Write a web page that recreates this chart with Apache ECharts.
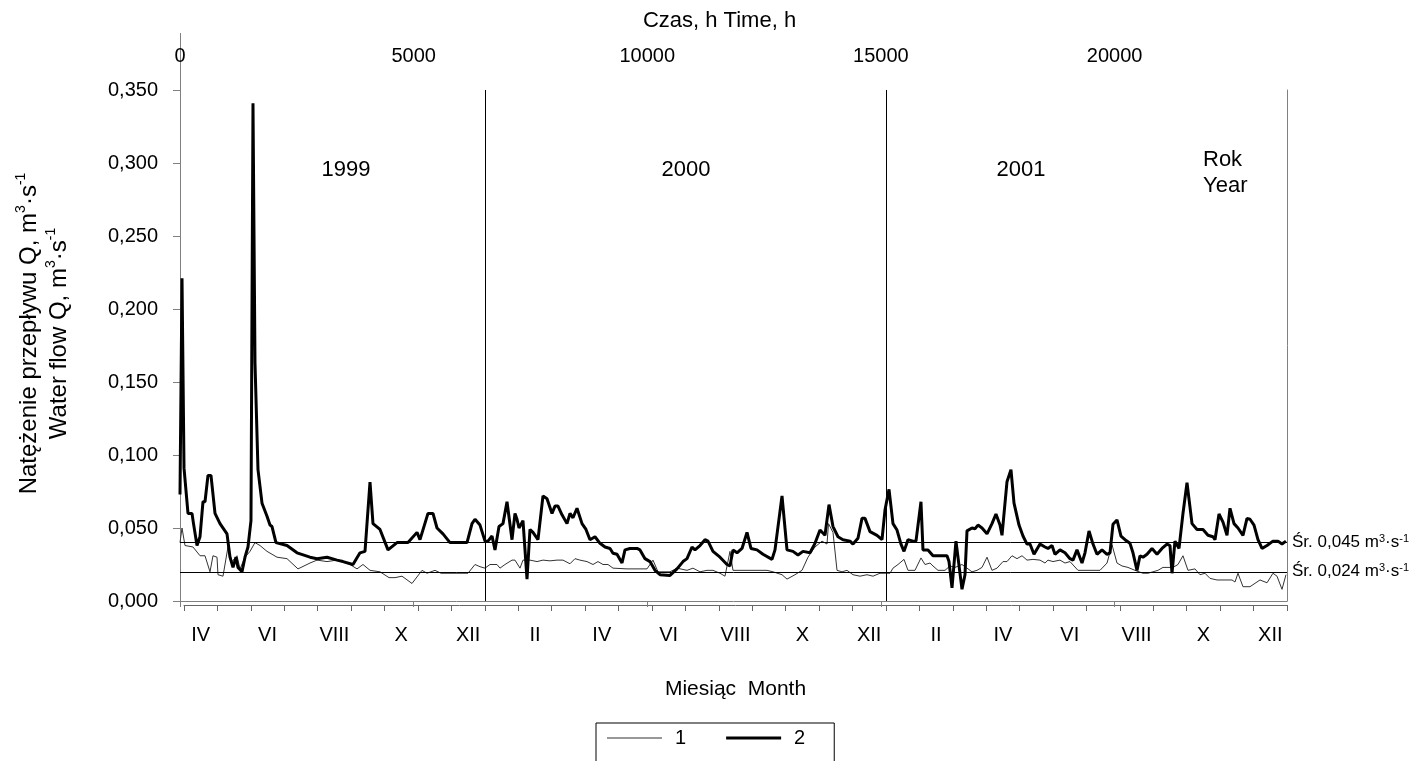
<!DOCTYPE html>
<html>
<head>
<meta charset="utf-8">
<title>Natężenie przepływu</title>
<script src="https://cdn.jsdelivr.net/npm/echarts@6/dist/echarts.min.js"></script>
<style>
  html, body { margin: 0; padding: 0; background: #fff; }
  #main { width: 1424px; height: 761px; }
</style>
</head>
<body>
<div id="main"></div>
<script>
// month categories on the lower axis (IV 1999 .. XII 2001)
var months = ['IV', 'V', 'VI', 'VII', 'VIII', 'IX', 'X', 'XI', 'XII',
  'I', 'II', 'III', 'IV', 'V', 'VI', 'VII', 'VIII', 'IX', 'X', 'XI', 'XII',
  'I', 'II', 'III', 'IV', 'V', 'VI', 'VII', 'VIII', 'IX', 'X', 'XI', 'XII'];

// series 1 (thin line): time in hours, flow in m3/s
var hours1 = [0, 43, 107, 278, 428, 535, 642, 706, 792, 813,
  920, 1027, 1113, 1220, 1284, 1391, 1498, 1605, 1712, 1862,
  2076, 2290, 2525, 2782, 2932, 3146, 3360, 3638, 3788, 3916,
  4066, 4280, 4473, 4601, 4751, 4965, 5179, 5286, 5457, 5585,
  5906, 6163, 6313, 6420, 6527, 6634, 6784, 6848, 6955, 7105,
  7169, 7276, 7340, 7490, 7640, 7768, 7918, 8068, 8196, 8346,
  8453, 8560, 8710, 8838, 8945, 9052, 9159, 9266, 9566, 9994,
  10122, 10229, 10486, 10636, 10850, 10978, 11128, 11278, 11406, 11556,
  11663, 11770, 11834, 12134, 12412, 12562, 12690, 12883, 12990, 13161,
  13311, 13439, 13589, 13739, 13846, 13878, 13974, 14060, 14167, 14274,
  14402, 14552, 14702, 14830, 14980, 15194, 15258, 15365, 15494, 15579,
  15729, 15857, 15943, 16050, 16114, 16221, 16371, 16478, 16585, 16735,
  16820, 16949, 17056, 17163, 17270, 17377, 17484, 17612, 17698, 17805,
  17912, 18019, 18126, 18254, 18404, 18511, 18575, 18682, 18832, 18939,
  19046, 19217, 19410, 19688, 19838, 19945, 20052, 20159, 20287, 20437,
  20608, 20715, 20822, 20929, 21036, 21143, 21250, 21357, 21464, 21571,
  21721, 21828, 21935, 22042, 22192, 22513, 22577, 22641, 22748, 22898,
  23112, 23262, 23390, 23476, 23583, 23668];
var flow1 = [0.040, 0.050, 0.038, 0.037, 0.031, 0.031, 0.020, 0.031, 0.030, 0.018,
  0.017, 0.037, 0.027, 0.031, 0.022, 0.030, 0.034, 0.040, 0.038, 0.034,
  0.030, 0.029, 0.022, 0.026, 0.028, 0.027, 0.028, 0.025, 0.022, 0.025,
  0.021, 0.020, 0.016, 0.016, 0.017, 0.012, 0.021, 0.019, 0.021, 0.019,
  0.019, 0.019, 0.025, 0.0235, 0.0225, 0.025, 0.025, 0.0225, 0.025, 0.028,
  0.028, 0.0225, 0.028, 0.028, 0.027, 0.028, 0.0275, 0.028, 0.028, 0.0255,
  0.029, 0.028, 0.027, 0.025, 0.027, 0.025, 0.025, 0.0225, 0.022, 0.022,
  0.028, 0.020, 0.020, 0.0225, 0.021, 0.0225, 0.020, 0.021, 0.021, 0.019,
  0.017, 0.034, 0.021, 0.021, 0.021, 0.021, 0.020, 0.018, 0.015, 0.018,
  0.021, 0.030, 0.037, 0.041, 0.039, 0.053, 0.047, 0.021, 0.020, 0.021,
  0.018, 0.017, 0.018, 0.017, 0.019, 0.019, 0.0225, 0.025, 0.0285, 0.021,
  0.021, 0.0295, 0.025, 0.026, 0.024, 0.021, 0.021, 0.024, 0.023, 0.025,
  0.023, 0.020, 0.021, 0.023, 0.030, 0.021, 0.0225, 0.027, 0.027, 0.031,
  0.029, 0.031, 0.028, 0.0285, 0.028, 0.026, 0.028, 0.027, 0.028, 0.026,
  0.027, 0.021, 0.021, 0.021, 0.026, 0.0385, 0.026, 0.024, 0.023, 0.021,
  0.019, 0.019, 0.020, 0.021, 0.023, 0.023, 0.023, 0.025, 0.031, 0.021,
  0.022, 0.018, 0.019, 0.0155, 0.0144, 0.0144, 0.013, 0.019, 0.0098, 0.0098,
  0.0144, 0.0125, 0.019, 0.017, 0.008, 0.018];

// series 2 (thick line)
var hours2 = [0, 43, 86, 171, 257, 289, 364, 428, 492, 535,
  599, 663, 749, 856, 1006, 1070, 1134, 1198, 1241, 1327,
  1391, 1455, 1519, 1562, 1605, 1669, 1755, 1862, 1926, 1969,
  2054, 2290, 2504, 2782, 2932, 3146, 3360, 3488, 3702, 3852,
  3959, 4066, 4130, 4280, 4451, 4644, 4879, 5072, 5136, 5307,
  5414, 5500, 5628, 5778, 6142, 6249, 6313, 6420,
  6527, 6591, 6677, 6741, 6827, 6912, 6998, 7105, 7169, 7212,
  7255, 7340, 7426, 7490, 7554, 7661, 7768, 7854, 7961, 8025,
  8089, 8175, 8282, 8346, 8410, 8496, 8603, 8688, 8774, 8881,
  8988, 9095, 9202, 9266, 9352, 9459, 9523, 9630, 9780, 9844,
  9951, 10058, 10165, 10272, 10486, 10636, 10764, 10850, 10957, 11021,
  11128, 11235, 11299, 11406, 11556, 11706, 11770, 11834, 11920, 12027,
  12134, 12219, 12348, 12476, 12669, 12733, 12883, 12990, 13118, 13225,
  13332, 13482, 13589, 13696, 13803, 13889, 13974, 14081, 14188, 14338,
  14402, 14509, 14595, 14659, 14766, 14916, 15023, 15087, 15173, 15258,
  15344, 15429, 15494, 15579, 15686, 15750, 15857, 15900, 16007, 16114,
  16414, 16457, 16521, 16606, 16735, 16799, 16842, 16949, 17013, 17077,
  17163, 17270, 17377, 17462, 17548, 17591, 17698, 17783, 17848, 17955,
  18040, 18126, 18190, 18276, 18404, 18511, 18575, 18661, 18725, 18832,
  18939, 19046, 19110, 19196, 19303, 19367, 19453, 19538, 19624, 19731,
  19838, 19902, 19966, 20052, 20137, 20223, 20330, 20394, 20480, 20544,
  20608, 20694, 20801, 20908, 21015, 21122, 21186, 21229, 21293, 21379,
  21464, 21550, 21657, 21764, 21892, 21999, 22106, 22149, 22235, 22320,
  22406, 22470, 22556, 22641, 22748, 22834, 22898, 22984, 23069, 23155,
  23262, 23390, 23497, 23583, 23668];
var flow2 = [0.073, 0.221, 0.091, 0.060, 0.060, 0.053, 0.038, 0.044, 0.068, 0.068,
  0.086, 0.086, 0.060, 0.053, 0.046, 0.030, 0.023, 0.030, 0.023, 0.020,
  0.030, 0.037, 0.055, 0.341, 0.163, 0.090, 0.067, 0.058, 0.052, 0.051,
  0.040, 0.038, 0.033, 0.030, 0.029, 0.030, 0.028, 0.027, 0.025, 0.033,
  0.034, 0.0815, 0.053, 0.049, 0.035, 0.040, 0.040, 0.047, 0.042, 0.060,
  0.060, 0.050, 0.046, 0.040, 0.040, 0.053, 0.056, 0.052,
  0.041, 0.041, 0.0445, 0.035, 0.051, 0.053, 0.068, 0.042, 0.060, 0.056,
  0.050, 0.055, 0.015, 0.049, 0.047, 0.042, 0.072, 0.070, 0.060, 0.065,
  0.065, 0.059, 0.053, 0.060, 0.057, 0.0635, 0.053, 0.049, 0.042, 0.044,
  0.0395, 0.037, 0.036, 0.0327, 0.032, 0.026, 0.035, 0.036, 0.036, 0.035,
  0.029, 0.027, 0.021, 0.018, 0.0175, 0.022, 0.027, 0.029, 0.037, 0.035,
  0.038, 0.042, 0.041, 0.034, 0.030, 0.025, 0.024, 0.035, 0.033, 0.036,
  0.047, 0.036, 0.035, 0.032, 0.0285, 0.035, 0.072, 0.035, 0.034, 0.0315,
  0.034, 0.033, 0.0395, 0.0486, 0.045, 0.066, 0.051, 0.044, 0.042, 0.041,
  0.039, 0.043, 0.0566, 0.0566, 0.0475, 0.045, 0.042, 0.0623, 0.0765, 0.053,
  0.0486, 0.039, 0.034, 0.042, 0.041, 0.041, 0.068, 0.035, 0.035, 0.031,
  0.031, 0.027, 0.009, 0.041, 0.008, 0.018, 0.048, 0.050, 0.0495, 0.052,
  0.050, 0.046, 0.053, 0.0596, 0.052, 0.045, 0.0817, 0.090, 0.067, 0.052,
  0.0445, 0.039, 0.039, 0.032, 0.039, 0.037, 0.036, 0.038, 0.032, 0.035,
  0.033, 0.029, 0.028, 0.035, 0.026, 0.033, 0.048, 0.039, 0.032, 0.035,
  0.032, 0.033, 0.0525, 0.0555, 0.0445, 0.042, 0.0395, 0.033, 0.021, 0.031,
  0.030, 0.032, 0.036, 0.032, 0.036, 0.039, 0.038, 0.019, 0.041, 0.036,
  0.060, 0.081, 0.053, 0.049, 0.049, 0.045, 0.044, 0.042, 0.0596, 0.054,
  0.045, 0.0635, 0.053, 0.050, 0.045, 0.0566, 0.056, 0.052, 0.042, 0.036,
  0.038, 0.041, 0.041, 0.039, 0.041];

// year boundaries (hours) and the two mean levels as drawn
var yearBounds = [6527, 15108];
var meanLevels = [0.0225, 0.041];
var meanTexts = ['0,024', '0,045'];
var years = ['1999', '2000', '2001'];

var FONT = '"Liberation Sans", Arial, sans-serif';

function pairs(h, q) {
  return h.map(function (t, i) { return [t, q[i]]; });
}

var unitRich = {
  a: { fontSize: 17, fontFamily: FONT, color: '#000' },
  s: { fontSize: 11, fontFamily: FONT, color: '#000', verticalAlign: 'top', padding: [0, 0, 8, 0] }
};
function meanLabel(txt) {
  return '{a|Śr. ' + txt + ' m}{s|3}{a|·s}{s|-1}';
}

var chart = echarts.init(document.getElementById('main'));

var option = {
  animation: false,
  backgroundColor: '#fff',
  textStyle: { fontFamily: FONT, color: '#000' },
  grid: [
    { left: 180, right: 137, top: 90, bottom: 160 },
    { left: 184, right: 137, top: 90, bottom: 156 }
  ],
  xAxis: [
    {
      type: 'value', gridIndex: 0, position: 'top',
      min: 0, max: 23690, interval: 5000,
      name: 'Czas, h Time, h', nameLocation: 'middle', nameGap: 58,
      nameTextStyle: { fontSize: 22, color: '#000', fontFamily: FONT, padding: [0, 28, 0, 0] },
      axisLine: { show: true, lineStyle: { color: '#808080', width: 1 } },
      axisTick: { show: true, inside: true, length: 6, lineStyle: { color: '#808080' } },
      axisLabel: {
        fontSize: 20, color: '#000', fontFamily: FONT, margin: 24, showMaxLabel: false,
        formatter: function (v) { return String(v); }
      },
      splitLine: { show: false }
    },
    {
      type: 'category', gridIndex: 1, position: 'bottom', data: months, boundaryGap: true,
      name: 'Miesiąc  Month', nameLocation: 'middle', nameGap: 74,
      nameTextStyle: { fontSize: 21, color: '#000', fontFamily: FONT },
      axisLine: { show: true, lineStyle: { color: '#666', width: 1 } },
      axisTick: { show: true, interval: 0, length: 6, lineStyle: { color: '#666' } },
      axisLabel: { interval: 1, fontSize: 20, color: '#000', fontFamily: FONT, margin: 20 },
      splitLine: { show: false }
    }
  ],
  yAxis: [
    {
      type: 'value', gridIndex: 0, min: 0, max: 0.35, interval: 0.05,
      name: '{a|Natężenie przepływu Q, m}{s|3}{a|·s}{s|-1}\n{a|Water flow Q, m}{s|3}{a|·s}{s|-1}',
      nameLocation: 'middle', nameRotate: 90, nameGap: 106,
      nameTextStyle: {
        align: 'center', lineHeight: 30, padding: [0, 0, 0, 24],
        rich: {
          a: { fontSize: 24, fontFamily: FONT, color: '#000', lineHeight: 30 },
          s: { fontSize: 14, fontFamily: FONT, color: '#000', verticalAlign: 'top', lineHeight: 30 }
        }
      },
      axisLine: { show: true, lineStyle: { color: '#808080', width: 1 } },
      axisTick: { show: true, length: 7, lineStyle: { color: '#808080' } },
      axisLabel: {
        fontSize: 20, color: '#000', fontFamily: FONT, margin: 22,
        formatter: function (v) { return v.toFixed(3).replace('.', ','); }
      },
      splitLine: { show: false }
    },
    { type: 'value', gridIndex: 1, show: false },
    {
      type: 'value', gridIndex: 0, position: 'right', min: 0, max: 0.35, interval: 0.05,
      axisLine: { show: true, lineStyle: { color: '#808080', width: 1 } },
      axisTick: { show: false }, axisLabel: { show: false }, splitLine: { show: false }
    }
  ],
  legend: {
    data: [
      { name: '1', icon: 'path://M0,0H55V1H0Z', itemStyle: { color: '#333' } },
      { name: '2', icon: 'path://M0,0H55V3H0Z', itemStyle: { color: '#000' } }
    ],
    left: 596, top: 723, orient: 'horizontal',
    itemWidth: 55, itemHeight: 14, itemGap: 40,
    padding: [5, 29, 30, 11],
    borderColor: '#000', borderWidth: 1,
    textStyle: { fontSize: 20, color: '#000', fontFamily: FONT, padding: [0, 0, 0, 8] }
  },
  series: [
    {
      name: '1', type: 'line', xAxisIndex: 0, yAxisIndex: 0,
      data: pairs(hours1, flow1), symbol: 'none', showSymbol: false,
      lineStyle: { color: '#333', width: 1 }, itemStyle: { color: '#333' },
      markLine: {
        silent: true, symbol: 'none',
        lineStyle: { color: '#000', width: 1, type: 'solid' },
        label: { show: true, position: 'end', distance: 5, formatter: meanLabel(meanTexts[0]), rich: unitRich },
        data: [{ yAxis: meanLevels[0] }]
      }
    },
    {
      name: '2', type: 'line', xAxisIndex: 0, yAxisIndex: 0,
      data: pairs(hours2, flow2), symbol: 'none', showSymbol: false,
      lineStyle: { color: '#000', width: 3 }, itemStyle: { color: '#000' },
      markLine: {
        silent: true, symbol: 'none',
        lineStyle: { color: '#000', width: 1, type: 'solid' },
        data: [
          { yAxis: meanLevels[1], label: { show: true, position: 'end', distance: 5, formatter: meanLabel(meanTexts[1]), rich: unitRich } },
          { xAxis: yearBounds[0], label: { show: false } },
          { xAxis: yearBounds[1], label: { show: false } }
        ]
      }
    }
  ],
  graphic: [
    { type: 'line', shape: { x1: 180.5, y1: 33, x2: 180.5, y2: 90 }, style: { stroke: '#808080', lineWidth: 1 } },
    { type: 'text', x: 346, y: 170, style: { text: years[0], fontSize: 22, fontFamily: FONT, fill: '#000', align: 'center', verticalAlign: 'middle' } },
    { type: 'text', x: 686, y: 170, style: { text: years[1], fontSize: 22, fontFamily: FONT, fill: '#000', align: 'center', verticalAlign: 'middle' } },
    { type: 'text', x: 1021, y: 170, style: { text: years[2], fontSize: 22, fontFamily: FONT, fill: '#000', align: 'center', verticalAlign: 'middle' } },
    { type: 'text', x: 1203, y: 147, style: { text: 'Rok\nYear', fontSize: 22, lineHeight: 26, fontFamily: FONT, fill: '#000', align: 'left', verticalAlign: 'top' } }
  ]
};

chart.setOption(option);
</script>
</body>
</html>
